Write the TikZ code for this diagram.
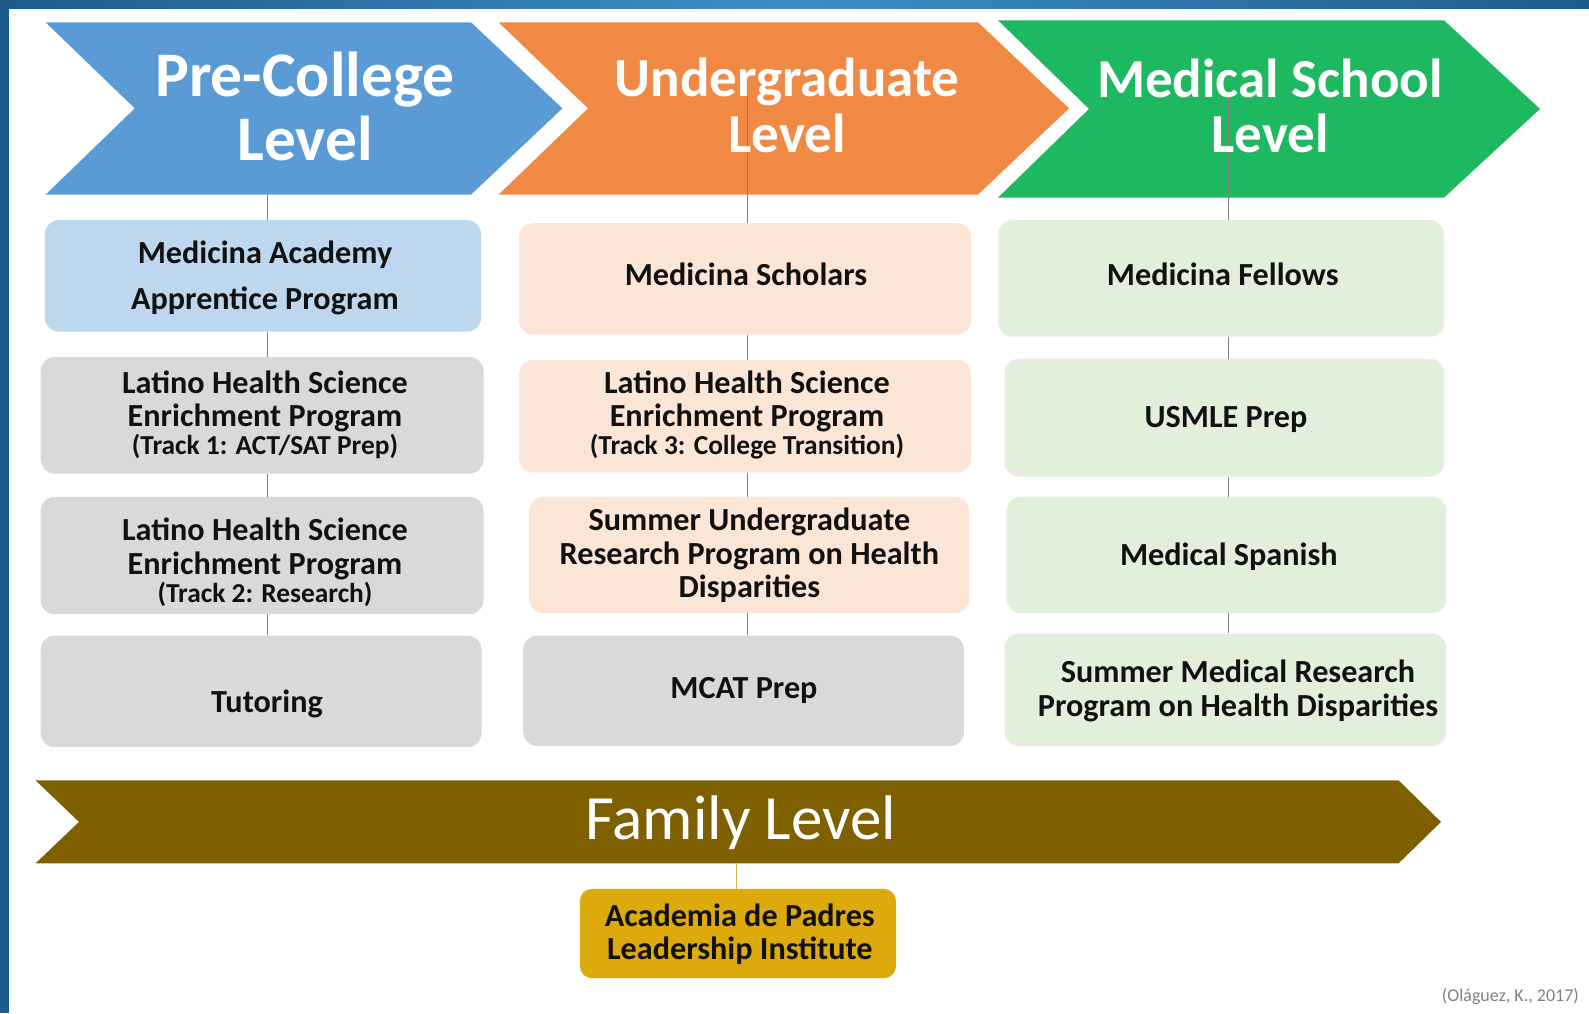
\documentclass[tikz,border=0pt]{standalone}
\usepackage{fontspec}
\setmainfont{Carlito}
\definecolor{cBlue}{HTML}{5B9BD5}
\definecolor{cOrange}{HTML}{EF8943}
\definecolor{cGreen}{HTML}{1DB860}
\definecolor{cLBlue}{HTML}{BDD7EE}
\definecolor{cPeach}{HTML}{FBE5D6}
\definecolor{cLGreen}{HTML}{E2EFDA}
\definecolor{cGray}{HTML}{D9D9D9}
\definecolor{cFamily}{HTML}{7F6000}
\definecolor{cGold}{HTML}{DDAA0C}
\definecolor{cGoldLine}{HTML}{D8B445}
\definecolor{cFrameD}{HTML}{1D5C8C}
\definecolor{cFrameL}{HTML}{3D8EC6}
\definecolor{cLine}{HTML}{808080}
\definecolor{cText}{HTML}{111111}
\newcommand\bodyfnt{\bfseries\fontsize{32.2}{33.5}\selectfont}
\newcommand\trackfnt{\fontsize{27.4}{29}\selectfont}
\tikzset{
  box/.style={rounded corners=14pt, anchor=north west, inner sep=0pt, draw=none},
  txt/.style={inner sep=0pt, align=center, font=\bodyfnt, text=cText},
  hdrA/.style={inner sep=0pt, anchor=base, text=white, font=\bfseries\fontsize{63.5}{64}\selectfont},
  hdrB/.style={inner sep=0pt, anchor=base, text=white, font=\bfseries\fontsize{55}{56}\selectfont},
  conn/.style={draw=cLine, line width=1pt},
}
\begin{document}
\begin{tikzpicture}[x=1pt,y=-1pt]
\useasboundingbox (0,0) rectangle (1589,1013);
\fill[white] (0,0) rectangle (1589,1013);
% frame
\shade[left color=cFrameD, right color=cFrameD, middle color=cFrameL] (0,0) rectangle (1589,8);
\fill[cFrameD] (0,0) rectangle (9,1013);

% chevrons
\fill[cOrange] (498.6,22.3) -- (978,22.3) -- (1069,108.4) -- (978,194.6) -- (498.6,194.6) -- (588,108.4) -- cycle;
\fill[cGreen] (998,20.3) -- (1444,20.3) -- (1540,108.9) -- (1444,197.6) -- (998,197.6) -- (1089,108.9) -- cycle;
\fill[cBlue] (45.6,22.3) -- (471,22.3) -- (562.4,108.4) -- (471,194.6) -- (45.6,194.6) -- (134.8,108.4) -- cycle;
\coordinate (h1s) at (267.5,194.6);
\coordinate (h2s) at (747,97);
\coordinate (h3s) at (1228,95);

% boxes column 1
\node[box, fill=cLBlue, minimum width=436.4pt, minimum height=111.4pt] (b11) at (44.6,220) {};
\node[box, fill=cGray, minimum width=442.9pt, minimum height=116.6pt] (b12) at (40.5,356.7) {};
\node[box, fill=cGray, minimum width=442.9pt, minimum height=117.4pt] (b13) at (40.5,496.6) {};
\node[box, fill=cGray, minimum width=440.9pt, minimum height=111.6pt] (b14) at (40.5,635.4) {};
% column 2
\node[box, fill=cPeach, minimum width=451.9pt, minimum height=111.4pt] (b21) at (518.9,223) {};
\node[box, fill=cPeach, minimum width=451.9pt, minimum height=112.4pt] (b22) at (518.9,359.8) {};
\node[box, fill=cPeach, minimum width=439.8pt, minimum height=116.4pt] (b23) at (529,496.6) {};
\node[box, fill=cGray, minimum width=440.7pt, minimum height=110.5pt] (b24) at (523,635.4) {};
% column 3
\node[box, fill=cLGreen, minimum width=445.8pt, minimum height=116.4pt] (b31) at (998.2,220) {};
\node[box, fill=cLGreen, minimum width=439.7pt, minimum height=117.6pt] (b32) at (1004.3,358.7) {};
\node[box, fill=cLGreen, minimum width=439.8pt, minimum height=116.4pt] (b33) at (1006.3,496.6) {};
\node[box, fill=cLGreen, minimum width=441.8pt, minimum height=112.5pt] (b34) at (1004.3,633.4) {};

% family
\fill[cFamily] (35.5,780.3) -- (1398.5,780.3) -- (1441,821.9) -- (1398.5,863.4) -- (35.5,863.4) -- (79,821.9) -- cycle;
\coordinate (fs) at (736.7,863.4);
\node[box, fill=cGold, rounded corners=12pt, minimum width=316.1pt, minimum height=89.3pt] (gold) at (579.7,888.7) {};

% connectors
\draw[conn] (h1s) -- (h1s |- b11.north);
\draw[conn] (h1s |- b11.south) -- (h1s |- b12.north);
\draw[conn] (h1s |- b12.south) -- (h1s |- b13.north);
\draw[conn] (h1s |- b13.south) -- (h1s |- b14.north);
\draw[conn] (h2s) -- (h2s |- b21.north);
\draw[conn] (h2s |- b21.south) -- (h2s |- b22.north);
\draw[conn] (h2s |- b22.south) -- (h2s |- b23.north);
\draw[conn] (h2s |- b23.south) -- (h2s |- b24.north);
\draw[conn] (h3s) -- (h3s |- b31.north);
\draw[conn] (h3s |- b31.south) -- (h3s |- b32.north);
\draw[conn] (h3s |- b32.south) -- (h3s |- b33.north);
\draw[conn] (h3s |- b33.south) -- (h3s |- b34.north);
\draw[draw=cGoldLine, line width=1pt] (fs) -- (fs |- gold.north);

% header texts
\node[hdrA] (h1a) at (305,96.3) {Pre-College};
\node[hdrA] (h1b) at (305,160) {Level};
\node[hdrB] (h2a) at (787,96.3) {Undergraduate};
\node[hdrB] (h2b) at (787,152) {Level};
\node[hdrB] (h3a) at (1270,97) {Medical School};
\node[hdrB] (h3b) at (1270,152) {Level};

% box texts
\node[txt] (t11) at (265,277.9) {Medicina Academy\\[13.2pt]Apprentice Program};
\node[txt] (t12) at (265,415) {Latino Health Science\\Enrichment Program\\[-5.5pt]{\trackfnt (Track 1: ACT/SAT Prep)}};
\node[txt] (t13) at (265,562) {Latino Health Science\\Enrichment Program\\[-5.5pt]{\trackfnt (Track 2: Research)}};
\node[txt, anchor=base] (t14) at (267,712.4) {Tutoring};
\node[txt, anchor=base] (t21) at (746,285.7) {Medicina Scholars};
\node[txt] (t22) at (747,415) {Latino Health Science\\Enrichment Program\\[-5.5pt]{\trackfnt (Track 3: College Transition)}};
\node[txt] (t23) at (749.4,555.6) {Summer Undergraduate\\Research Program on Health\\Disparities};
\node[txt, anchor=base] (t24) at (744,698) {MCAT Prep};
\node[txt, anchor=base] (t31) at (1222.7,285.7) {Medicina Fellows};
\node[txt, anchor=base] (t32) at (1226,427.6) {USMLE Prep};
\node[txt, anchor=base] (t33) at (1228.8,565.4) {Medical Spanish};
\node[txt] (t34) at (1238,690.9) {Summer Medical Research\\Program on Health Disparities};

\node[inner sep=0pt, anchor=base, text=white, font=\fontsize{63}{63}\selectfont] (fam) at (740.8,839) {Family Level};
\node[txt] (t41) at (739.8,934) {Academia de Padres\\Leadership Institute};
\node[inner sep=0pt, anchor=base east, text=cLine, font=\fontsize{18}{18}\selectfont] (cite) at (1579,1001.8) {(Oláguez, K., 2017)};
\end{tikzpicture}
\end{document}
